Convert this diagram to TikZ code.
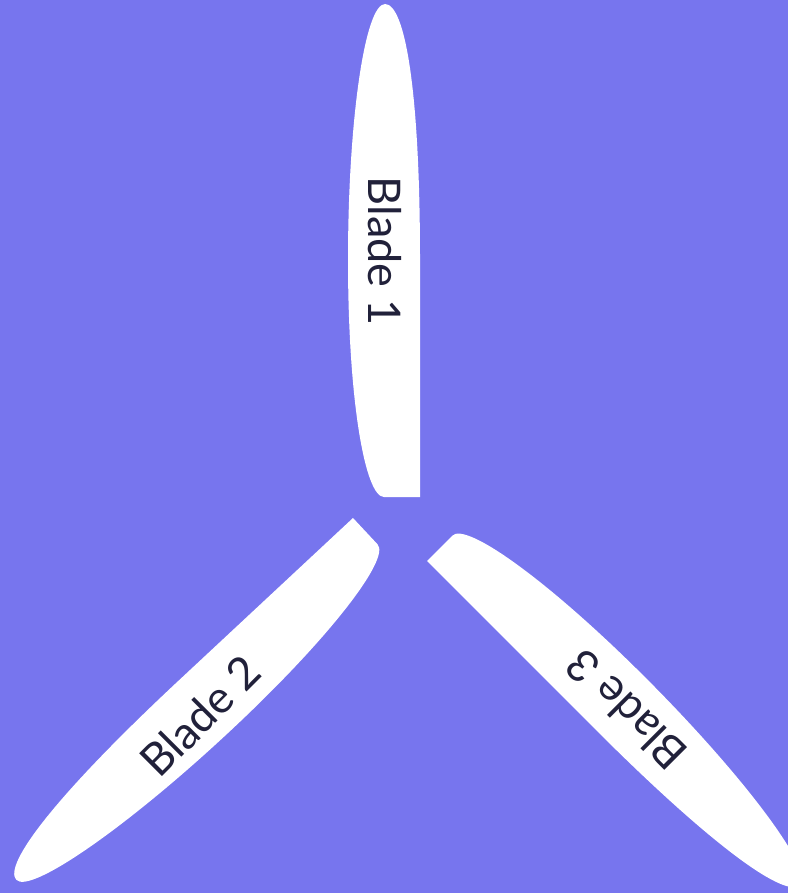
\documentclass[tikz,border=0pt]{standalone}
\usepackage{fontspec}
\setmainfont{Lato}
\definecolor{skyblue}{RGB}{119,117,238}
\definecolor{inkdark}{RGB}{33,33,58}
\begin{document}
\begin{tikzpicture}[x=1pt,y=-1pt,
  blade/.style={fill=white,draw=none},
  bladetext/.style={text=inkdark,font=\fontsize{45}{48}\selectfont,inner sep=0pt}]
  \fill[skyblue] (0,0) rectangle (788,893);
  \useasboundingbox (0,0) rectangle (788,893);
  % blade 1, straight side on the right
  \begin{scope}[shift={(420,497)}]
    \fill[blade] (0,0) -- (0,-237)
      .. controls (0,-407) and (-15,-493) .. (-35,-493)
      .. controls (-55,-493) and (-72,-377) .. (-72,-237)
      .. controls (-72,-97) and (-55,0) .. (-36,0) -- cycle;
  \end{scope}
  % blade 2
  \begin{scope}[shift={(353,518)},rotate=133]
    \fill[blade] (0,0) -- (0,-237)
      .. controls (0,-407) and (-15,-493) .. (-35,-493)
      .. controls (-55,-493) and (-72,-377) .. (-72,-237)
      .. controls (-72,-97) and (-55,0) .. (-36,0) -- cycle;
  \end{scope}
  % blade 3
  \begin{scope}[shift={(427,561)},rotate=-135]
    \fill[blade] (0,0) -- (0,-237)
      .. controls (0,-407) and (-15,-493) .. (-35,-493)
      .. controls (-55,-493) and (-72,-377) .. (-72,-237)
      .. controls (-72,-97) and (-55,0) .. (-36,0) -- cycle;
  \end{scope}
  \node[bladetext,rotate=-90] (b1) at (385,251) {Blade 1};
  \node[bladetext,rotate=45] (b2) at (200,716) {Blade 2};
  \node[bladetext,rotate=135] (b3) at (626,710) {Blade 3};
\end{tikzpicture}
\end{document}
